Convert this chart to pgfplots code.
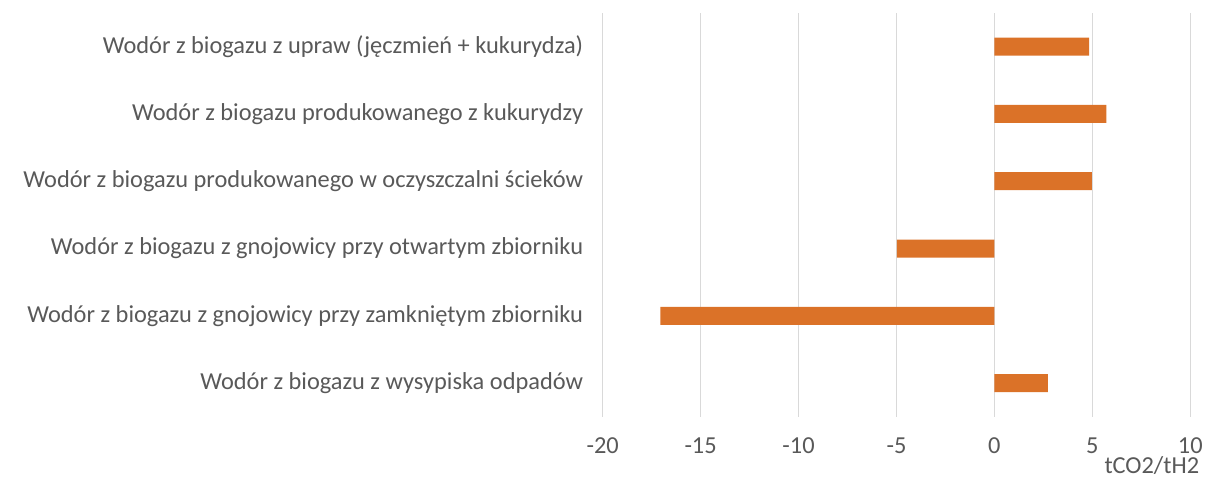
\documentclass[border=0pt]{standalone}
\usepackage{fontspec}
\setmainfont{Carlito}
\usepackage{pgfplots}
\pgfplotsset{compat=1.18}
\definecolor{barorange}{RGB}{219,114,40}
\definecolor{txtgray}{RGB}{89,89,89}
\definecolor{gridgray}{RGB}{217,217,217}
\begin{document}
\begin{tikzpicture}
\path (0pt,0pt) rectangle (1206pt,479pt);
\begin{axis}[
  at={(603pt,62pt)}, anchor=south west,
  scale only axis,
  width=588pt, height=404pt,
  xmin=-20, xmax=10,
  ymin=-0.5, ymax=5.5,
  xbar, bar width=18pt,
  axis line style={draw=none},
  major tick length=0pt,
  xtick={-20,-15,-10,-5,0,5,10},
  xticklabels={-20,-15,-10,-5,0,5,10},
  ytick={0,1,2,3,4,5},
  yticklabels={
    Wodór z biogazu z wysypiska odpadów,
    Wodór z biogazu z gnojowicy przy zamkniętym zbiorniku,
    Wodór z biogazu z gnojowicy przy otwartym zbiorniku,
    Wodór z biogazu produkowanego w oczyszczalni ścieków,
    Wodór z biogazu produkowanego z kukurydzy,
    {Wodór z biogazu z upraw (jęczmień + kukurydza)}},
  xmajorgrids,
  major grid style={draw=gridgray, line width=1.6pt},
  every tick label/.append style={font=\fontsize{24.4}{28}\selectfont, text=txtgray},
  xticklabel style={anchor=base, yshift=-37pt},
  yticklabel style={anchor=east, xshift=-16pt},
  xlabel={tCO2/tH2},
  xlabel style={at={(rel axis cs:1,0)}, anchor=base east, yshift=-56.5pt, xshift=9pt,
    font=\fontsize{24.4}{28}\selectfont, text=txtgray, inner sep=0pt},
  clip=false,
]
\addplot[fill=barorange, draw=none] coordinates {(2.73,0) (-17.05,1) (-4.98,2) (4.98,3) (5.71,4) (4.83,5)};
\end{axis}
\end{tikzpicture}
\end{document}
